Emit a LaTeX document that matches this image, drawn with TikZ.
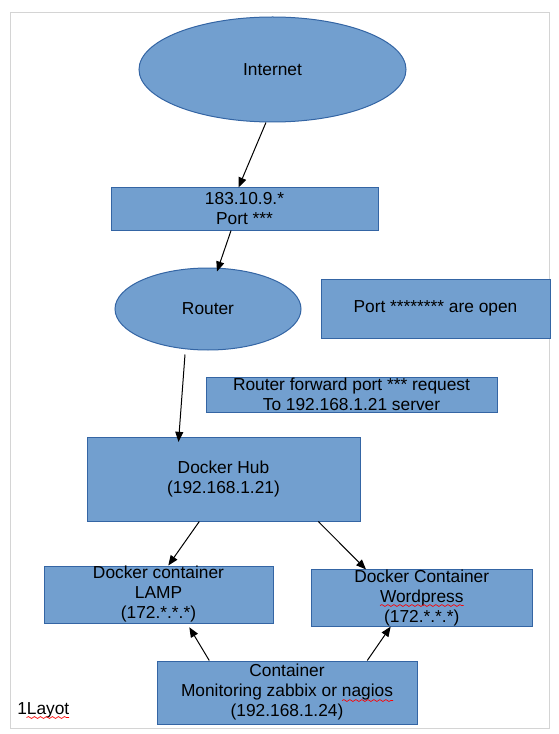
\documentclass[tikz,border=0pt]{standalone}
\usepackage{fontspec}
\setmainfont{Liberation Sans}
\usetikzlibrary{arrows.meta,shapes.geometric,decorations.pathmorphing}
\definecolor{boxfill}{HTML}{729FCF}
\definecolor{boxline}{HTML}{3465A4}
\definecolor{pageline}{HTML}{D4D4D4}
\begin{document}
\begin{tikzpicture}[x=0.75pt,y=-0.75pt,
  font=\fontsize{13pt}{15pt}\selectfont,
  box/.style={draw=boxline, fill=boxfill, line width=0.75pt, rectangle, align=center, inner sep=0pt},
  oval/.style={draw=boxline, fill=boxfill, line width=0.75pt, ellipse, inner sep=0pt},
  link/.style={draw=black, line width=0.75pt, -{Triangle[length=7.5pt,width=6pt]}},
  wave/.style={draw=red, line width=0.5pt, decorate, decoration={snake, amplitude=0.7pt, segment length=4.5pt}}]
\useasboundingbox (0,0) rectangle (558,734);
\draw[pageline, line width=0.75pt] (10,13) rectangle (549,728);

\node[oval, minimum width=200.25pt, minimum height=78.75pt] (internet) at (272.5,69.5) {Internet};
\node[box, minimum width=200.25pt, minimum height=31.5pt] (ip) at (244.5,209) {183.10.9.*\\Port ***};
\node[oval, minimum width=139.5pt, minimum height=61.5pt] (router) at (208,309) {Router};
\node[box, minimum width=171.75pt, minimum height=44.25pt] (open) at (435.5,308.5) {Port ******** are open};
\node[box, minimum width=218.25pt, minimum height=26.25pt] (fwd) at (351.5,394.5) {Router forward port *** request\\To 192.168.1.21 server};
\node[box, minimum width=204.75pt, minimum height=63pt] (hub) at (223.5,479) {Docker Hub\\(192.168.1.21)};
\node[box, minimum width=171.75pt, minimum height=42.75pt] (lamp) at (158.5,594.5) {Docker container\\LAMP\\(172.*.*.*)};
\node[box, minimum width=165.4pt, minimum height=42pt] (wp) at (421.75,598) {Docker Container\\Wordpress\\(172.*.*.*)};
\node[box, minimum width=195pt, minimum height=47.25pt] (cont) at (287,692.5) {Container\\Monitoring zabbix or nagios\\(192.168.1.24)};
\node[anchor=base west, inner sep=0pt] (layout) at (17,714) {1Layot};

\draw[wave] (26.6,717.5) -- (69,717.5);
\draw[wave] (380,605.5) -- (463.6,605.5);
\draw[wave] (342,700.5) -- (393,700.5);

\draw[link] ([xshift=-4.9pt]internet.south) -- ([xshift=-4.5pt]ip.north);
\draw[link] ([xshift=-10.1pt]ip.south) -- ([xshift=6.75pt,yshift=-3pt]router.north);
\draw[link] ([xshift=-17.25pt,yshift=-3pt]router.south) -- ([xshift=-33.75pt,yshift=-4pt]hub.north);
\draw[link] ([xshift=-18.15pt]hub.south) -- ([xshift=7.35pt]lamp.north);
\draw[link] ([xshift=71.1pt]hub.south) -- ([xshift=-41.8pt]wp.north);
\draw[link] ([xshift=-58.3pt]cont.north) -- ([xshift=23.1pt,yshift=-2.8pt]lamp.south);
\draw[link] ([xshift=60.2pt]cont.north) -- ([xshift=-23.3pt]wp.south);
\end{tikzpicture}
\end{document}
